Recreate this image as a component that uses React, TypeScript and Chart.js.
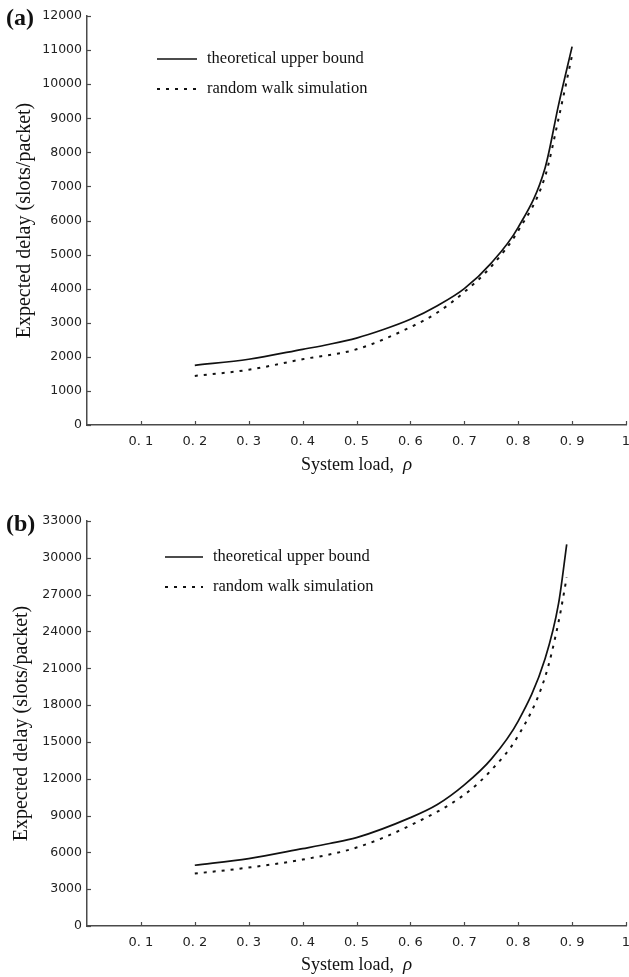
import React, { useEffect, useRef } from 'react';
import { Chart, registerables } from 'chart.js';

Chart.register(...registerables);

// ---------- data ----------
const xTickLabels = ['', '0. 1', '0. 2', '0. 3', '0. 4', '0. 5', '0. 6', '0. 7', '0. 8', '0. 9', '1'];
const seriesLabels = ['theoretical upper bound', 'random walk simulation'];
const panelLabels = ['(a)', '(b)'];
const xTitleText = 'System load,  ';
const xTitleSymbol = '\u03C1';
const yTitle = 'Expected delay (slots/packet)';

// panel (a)
const loadAUpper = [0.2, 0.3, 0.4, 0.45, 0.5, 0.55, 0.6, 0.65, 0.7, 0.75, 0.8, 0.85, 0.875, 0.9];
const delayAUpper = [1750, 1930, 2220, 2370, 2550, 2800, 3100, 3500, 4000, 4750, 5800, 7550, 9400, 11100];
const loadASim = [0.2, 0.3, 0.4, 0.5, 0.6, 0.65, 0.7, 0.75, 0.8, 0.85, 0.875, 0.9];
const delayASim = [1440, 1620, 1930, 2220, 2870, 3300, 3900, 4650, 5700, 7300, 9000, 10850];
const yTicksA = [0, 12000, 1000];

// panel (b)
const loadBUpper = [0.2, 0.3, 0.4, 0.45, 0.5, 0.6, 0.65, 0.7, 0.75, 0.8, 0.85, 0.875, 0.89];
const delayBUpper = [4950, 5490, 6300, 6720, 7200, 8830, 9900, 11500, 13600, 16700, 21800, 26300, 31100];
const loadBSim = [0.2, 0.3, 0.4, 0.5, 0.6, 0.7, 0.75, 0.8, 0.85, 0.875, 0.89];
const delayBSim = [4270, 4760, 5410, 6390, 8200, 10700, 12700, 15500, 20300, 24800, 28400];
const yTicksB = [0, 33000, 3000];

const AXIS = '#4a4a4a';
const INK = '#111';

const toPts = (xs: number[], ys: number[]) => xs.map((x, i) => ({ x, y: ys[i] }));

const inwardTicks = {
  id: 'inwardTicks',
  afterDraw(chart: any) {
    const { ctx, chartArea, scales } = chart;
    const len = 4;
    ctx.save();
    ctx.strokeStyle = AXIS;
    ctx.lineWidth = 1.2;
    scales.x.ticks.forEach((t: any) => {
      if (Math.abs(t.value) < 1e-9) return;
      const px = Math.round(scales.x.getPixelForValue(t.value)) + 0.5;
      ctx.beginPath();
      ctx.moveTo(px, chartArea.bottom);
      ctx.lineTo(px, chartArea.bottom - len);
      ctx.stroke();
    });
    scales.y.ticks.forEach((t: any) => {
      const py = Math.round(scales.y.getPixelForValue(t.value)) + 0.5;
      ctx.beginPath();
      ctx.moveTo(chartArea.left, py);
      ctx.lineTo(chartArea.left + len, py);
      ctx.stroke();
    });
    ctx.restore();
  },
};

const decor = {
  id: 'decor',
  afterDraw(chart: any, _args: any, opts: any) {
    const { ctx, chartArea } = chart;
    ctx.save();
    // panel label
    ctx.fillStyle = INK;
    ctx.font = 'bold 24px "Liberation Serif"';
    ctx.textAlign = 'left';
    ctx.textBaseline = 'middle';
    ctx.fillText(opts.panel, opts.panelX, opts.panelY);
    // x axis title with italic symbol
    const fNorm = '18px "Liberation Serif"';
    const fItal = 'italic 19px "Liberation Serif"';
    ctx.font = fNorm;
    const w1 = ctx.measureText(xTitleText).width;
    ctx.font = fItal;
    const w2 = ctx.measureText(xTitleSymbol).width;
    const cx = (chartArea.left + chartArea.right) / 2;
    const x0 = cx - (w1 + w2) / 2;
    ctx.textBaseline = 'alphabetic';
    ctx.font = fNorm;
    ctx.fillText(xTitleText, x0, opts.xTitleY);
    ctx.font = fItal;
    ctx.fillText(xTitleSymbol, x0 + w1, opts.xTitleY);
    // legend
    ctx.textBaseline = 'middle';
    ctx.font = '16.5px "Liberation Serif"';
    chart.data.datasets.forEach((ds: any, i: number) => {
      const y = opts.legendY[i];
      ctx.strokeStyle = ds.borderColor;
      ctx.lineWidth = ds.borderWidth;
      ctx.setLineDash(ds.borderDash || []);
      ctx.beginPath();
      ctx.moveTo(opts.lineX0, y);
      ctx.lineTo(opts.lineX1, y);
      ctx.stroke();
      ctx.setLineDash([]);
      ctx.fillStyle = INK;
      ctx.fillText(ds.label, opts.textX, y);
    });
    ctx.restore();
  },
};

function makeConfig(
  upper: { x: number; y: number }[],
  sim: { x: number; y: number }[],
  yTicks: number[],
  layout: { top: number; xHeight: number; yTitlePad: number },
  decorOpts: any
): any {
  return {
    type: 'line',
    data: {
      datasets: [
        {
          label: seriesLabels[0],
          data: upper,
          borderColor: INK,
          borderWidth: 1.7,
          pointRadius: 0,
          fill: false,
          cubicInterpolationMode: 'monotone',
        },
        {
          label: seriesLabels[1],
          data: sim,
          borderColor: INK,
          borderWidth: 2,
          borderDash: [3, 6],
          pointRadius: 0,
          fill: false,
          cubicInterpolationMode: 'monotone',
        },
      ],
    },
    options: {
      responsive: false,
      animation: false,
      devicePixelRatio: 1,
      layout: { padding: { top: layout.top, left: 0, right: 3, bottom: 0 } },
      plugins: {
        legend: { display: false },
        tooltip: { enabled: false },
        decor: decorOpts,
      },
      scales: {
        x: {
          type: 'linear',
          min: 0,
          max: 1,
          grid: { display: false, drawTicks: false },
          border: { display: true, color: AXIS, width: 1.5 },
          ticks: {
            stepSize: 0.1,
            autoSkip: false,
            maxRotation: 0,
            padding: 9,
            color: '#222',
            font: { family: '"DejaVu Sans"', size: 13 },
            callback: (v: any) => xTickLabels[Math.round(Number(v) * 10)] ?? '',
          },
          title: { display: false },
          afterFit: (s: any) => {
            s.height = layout.xHeight;
            s.paddingLeft = 0;
            s.paddingRight = 0;
          },
        },
        y: {
          type: 'linear',
          min: yTicks[0],
          max: yTicks[1],
          grid: { display: false, drawTicks: false },
          border: { display: true, color: AXIS, width: 1.5 },
          ticks: {
            stepSize: yTicks[2],
            autoSkip: false,
            padding: 5,
            color: '#222',
            font: { family: '"DejaVu Sans"', size: 12.5 },
            callback: (v: any) => String(v),
          },
          title: {
            display: true,
            text: yTitle,
            color: INK,
            font: { family: '"Liberation Serif"', size: 20 },
            padding: { top: layout.yTitlePad, bottom: 0 },
          },
          afterFit: (s: any) => {
            s.width = 87;
          },
        },
      },
    },
    plugins: [inwardTicks, decor],
  };
}

export default function App() {
  const refA = useRef<HTMLCanvasElement>(null);
  const refB = useRef<HTMLCanvasElement>(null);

  useEffect(() => {
    const a = new Chart(
      refA.current as HTMLCanvasElement,
      makeConfig(
        toPts(loadAUpper, delayAUpper),
        toPts(loadASim, delayASim),
        yTicksA,
        { top: 16, xHeight: 55, yTitlePad: 13 },
        { panel: panelLabels[0], panelX: 6, panelY: 19, legendY: [59, 89], lineX0: 157, lineX1: 197, textX: 207, xTitleY: 470 }
      )
    );
    const b = new Chart(
      refB.current as HTMLCanvasElement,
      makeConfig(
        toPts(loadBUpper, delayBUpper),
        toPts(loadBSim, delayBSim),
        yTicksB,
        { top: 33, xHeight: 51, yTitlePad: 10 },
        { panel: panelLabels[1], panelX: 6, panelY: 37, legendY: [69, 99], lineX0: 165, lineX1: 203, textX: 213, xTitleY: 482 }
      )
    );
    return () => {
      a.destroy();
      b.destroy();
    };
  }, []);

  return (
    <div style={{ position: 'absolute', left: 0, top: 0, width: 629, height: 977, background: '#fff', overflow: 'hidden' }}>
      <canvas ref={refA} width={629} height={480} style={{ position: 'absolute', left: 0, top: 0, width: 629, height: 480 }} />
      <canvas ref={refB} width={629} height={489} style={{ position: 'absolute', left: 0, top: 488, width: 629, height: 489 }} />
    </div>
  );
}
